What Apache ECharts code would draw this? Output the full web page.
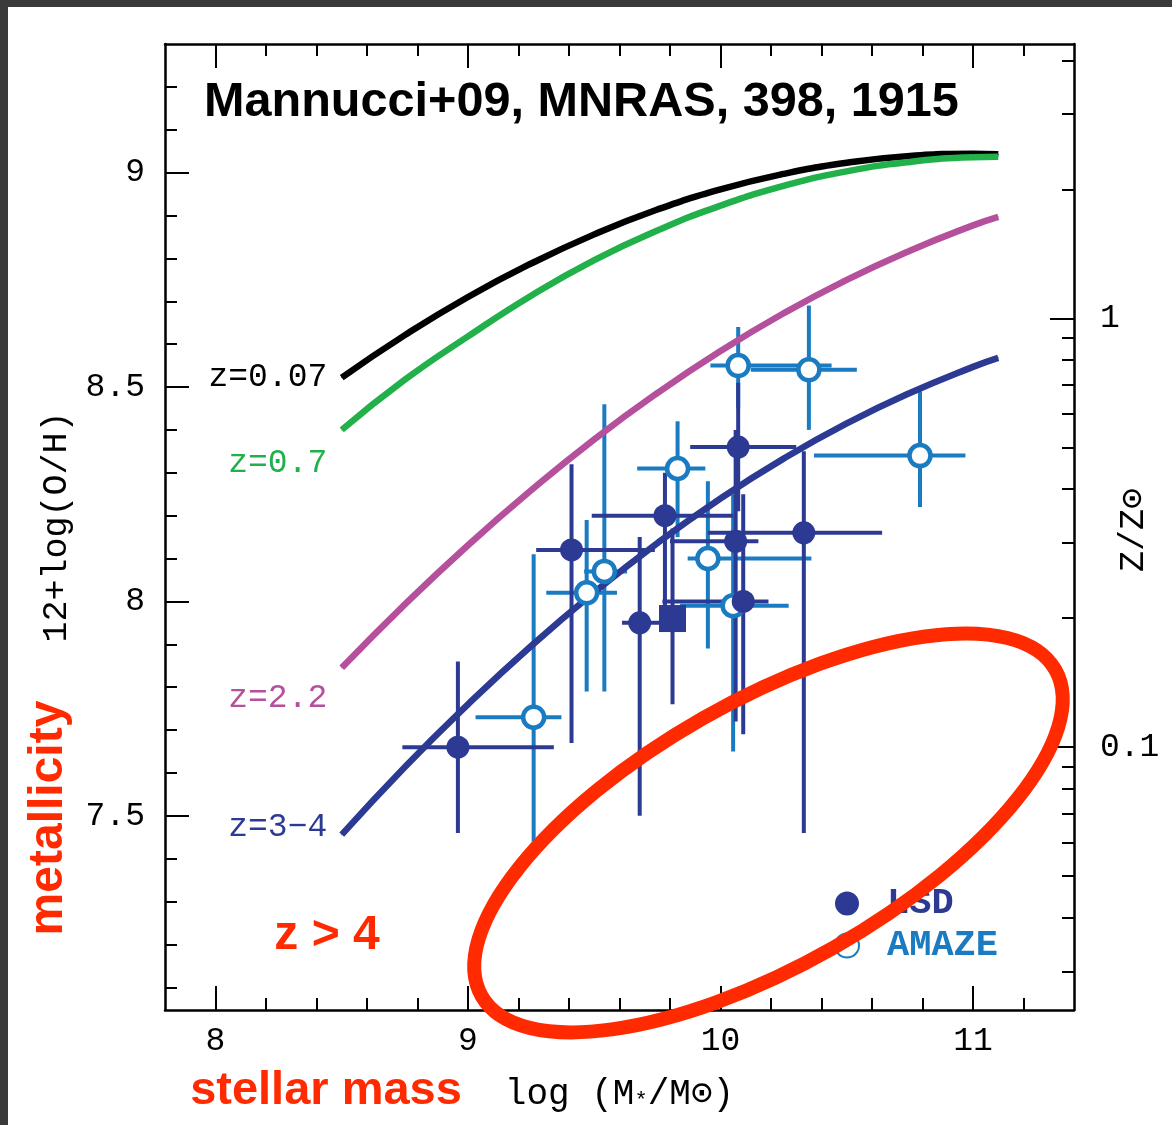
<!DOCTYPE html>
<html><head><meta charset="utf-8">
<script src="https://cdn.jsdelivr.net/npm/echarts@6/dist/echarts.min.js"></script>
<style>html,body{margin:0;padding:0;background:#fff}#c{width:1172px;height:1125px}</style>
</head><body><div id="c"></div>
<script>
// ---------- data ----------
const massGrid = [8.5, 8.75, 9.0, 9.25, 9.5, 9.75, 10.0, 10.25, 10.5, 10.75, 11.0, 11.1];
const ohZ007 = [8.522, 8.621, 8.710, 8.788, 8.856, 8.914, 8.961, 8.997, 9.023, 9.039, 9.044, 9.043];
const ohZ07  = [8.400, 8.517, 8.618, 8.713, 8.796, 8.865, 8.923, 8.969, 9.003, 9.025, 9.036, 9.037];
const ohZ22  = [7.845, 7.993, 8.131, 8.259, 8.378, 8.486, 8.584, 8.672, 8.750, 8.818, 8.877, 8.897];
const ohZ34  = [7.456, 7.614, 7.760, 7.896, 8.021, 8.136, 8.240, 8.333, 8.415, 8.486, 8.547, 8.568];
const curveNames = ['z=0.07', 'z=0.7', 'z=2.2', 'z=3\u22124'];

// [logM, 12+log(O/H), logM low, logM high, O/H low, O/H high]
const lsdPoints = [
  [8.96, 7.66, 8.74, 9.34, 7.46, 7.86],
  [9.41, 8.12, 9.27, 9.74, 7.67, 8.32],
  [9.68, 7.95, 9.61, 9.76, 7.50, 8.15],
  [9.78, 8.20, 9.49, 10.05, 7.99, 8.30],
  [10.07, 8.36, 9.88, 10.30, 8.21, 8.51],
  [10.06, 8.14, 9.80, 10.15, 7.72, 8.40],
  [10.09, 8.00, 9.77, 10.19, 7.69, 8.25],
  [10.33, 8.16, 9.95, 10.64, 7.46, 8.35]
];
const lsdStack = [
  [9.81, 7.96, 9.81, 9.81, 7.76, 8.17]
];
const amazePoints = [
  [9.26, 7.73, 9.03, 9.37, 7.44, 8.11],
  [9.47, 8.02, 9.31, 9.59, 7.79, 8.19],
  [9.54, 8.07, 9.46, 9.63, 7.79, 8.46],
  [9.83, 8.31, 9.67, 9.94, 8.15, 8.42],
  [9.95, 8.10, 9.87, 10.36, 7.89, 8.28],
  [10.05, 7.99, 9.84, 10.27, 7.65, 8.25],
  [10.07, 8.55, 9.96, 10.44, 8.45, 8.64],
  [10.35, 8.54, 10.12, 10.54, 8.40, 8.69],
  [10.79, 8.34, 10.37, 10.97, 8.22, 8.49]
];
const ellipseCenter = [[10.19, 7.46]];

// ticks
const xMajorTicks = [8, 9, 10, 11];
const xMinorTicks = [8.2, 8.4, 8.6, 8.8, 9.2, 9.4, 9.6, 9.8, 10.2, 10.4, 10.6, 10.8, 11.2];
const yMajorTicks = [7.5, 8, 8.5, 9];
const yMinorTicks = [7.1, 7.2, 7.3, 7.4, 7.6, 7.7, 7.8, 7.9, 8.1, 8.2, 8.3, 8.4, 8.6, 8.7, 8.8, 8.9, 9.1, 9.2];
const zMajorTicks = [1, 0.1];
const zMinorTicks = [4, 3, 2, 0.9, 0.8, 0.7, 0.6, 0.5, 0.4, 0.3, 0.2, 0.09, 0.08, 0.07, 0.06, 0.05, 0.04, 0.03];
const solarOH = 8.66;

// ---------- styling ----------
const NAVY = '#2c3a93', BLUE = '#1b7bc1', RED = '#ff2a00', GREEN = '#22b04b', PURPLE = '#b5509c';
const MONO = '"Liberation Mono", "DejaVu Sans Mono", monospace';
const SANS = '"Liberation Sans", Arial, sans-serif';
const X_MIN = 7.8, X_MAX = 11.4, Y_MIN = 7.047, Y_MAX = 9.30;
const toOH = z => solarOH + Math.log10(z);

const chart = echarts.init(document.getElementById('c'), null, {renderer: 'canvas'});

const gridBox = {left: 165, right: 98, top: 44, bottom: 115, containLabel: false, outerBoundsMode: 'none'};
const frameLine = {show: true, onZero: false, lineStyle: {color: '#000', width: 2.5}};
const tickStyle = {color: '#000', width: 2};
const labelFont = {color: '#000', fontFamily: MONO, fontSize: 33};

function xAx(grid, pos, major) {
  return {
    gridIndex: grid, type: 'value', min: X_MIN, max: X_MAX, position: pos,
    axisLine: major ? frameLine : {show: false, onZero: false},
    axisTick: {show: true, inside: true, length: major ? 24 : 12,
      customValues: major ? xMajorTicks : xMinorTicks, lineStyle: tickStyle},
    axisLabel: (major && pos === 'bottom') ?
      Object.assign({show: true, customValues: xMajorTicks, margin: 15}, labelFont) : {show: false},
    splitLine: {show: false}
  };
}
function yAx(grid, pos, ticks, len, labels, extra) {
  return Object.assign({
    gridIndex: grid, type: 'value', min: Y_MIN, max: Y_MAX, position: pos,
    axisLine: grid === 0 ? frameLine : {show: false, onZero: false},
    axisTick: {show: true, inside: true, length: len, customValues: ticks, lineStyle: tickStyle},
    axisLabel: labels ? Object.assign({show: true}, labelFont, labels) : {show: false},
    splitLine: {show: false}
  }, extra || {});
}

const xAxes = [
  Object.assign(xAx(0, 'bottom', true), {
    name: '{t|log (M}{s|*}{t|/M\u2299)}', nameLocation: 'middle', nameGap: 62,
    nameTextStyle: {rich: {
      t: {fontFamily: MONO, fontSize: 36, color: '#000', lineHeight: 40, verticalAlign: 'bottom'},
      s: {fontFamily: MONO, fontSize: 22, color: '#000', lineHeight: 22, verticalAlign: 'bottom'}
    }}
  }),
  xAx(0, 'top', true),
  xAx(1, 'bottom', false),
  xAx(1, 'top', false)
];
const yAxes = [
  yAx(0, 'left', yMajorTicks, 24, {customValues: yMajorTicks, margin: 20}, {
    name: '12+log(O/H)', nameLocation: 'middle', nameGap: 90, nameRotate: 90,
    nameTextStyle: {fontFamily: MONO, fontSize: 35, color: '#000'}
  }),
  yAx(0, 'right', zMajorTicks.map(toOH), 24, {
    customValues: zMajorTicks.map(toOH), margin: 26,
    formatter: v => String(Math.round(Math.pow(10, v - solarOH) * 100) / 100)
  }),
  yAx(1, 'left', yMinorTicks, 12, null),
  yAx(1, 'right', zMinorTicks.map(toOH), 12, null)
];

function curve(values, color, labelText, dy) {
  return {
    type: 'line', name: labelText, xAxisIndex: 0, yAxisIndex: 0, z: 3, smooth: true,
    symbol: 'circle', symbolSize: 1, showSymbol: true, showAllSymbol: true, silent: true,
    itemStyle: {color: color}, lineStyle: {color: color, width: 6.5},
    emphasis: {disabled: true},
    data: massGrid.map((m, i) => i === 0 ? {
      value: [m, values[i]],
      label: {show: true, formatter: labelText, position: 'left', distance: 14,
        offset: [0, dy], color: color, fontFamily: MONO, fontSize: 33}
    } : [m, values[i]])
  };
}

function errBars(color) {
  return function (params, api) {
    const x = api.value(0), y = api.value(1);
    const l = api.coord([api.value(2), y]), r = api.coord([api.value(3), y]);
    const b = api.coord([x, api.value(4)]), t = api.coord([x, api.value(5)]);
    const st = {stroke: color, lineWidth: 4};
    return {type: 'group', children: [
      {type: 'line', shape: {x1: l[0], y1: l[1], x2: r[0], y2: r[1]}, style: st},
      {type: 'line', shape: {x1: b[0], y1: b[1], x2: t[0], y2: t[1]}, style: st}
    ]};
  };
}
function errSeries(name, rows, color) {
  return {type: 'custom', name: name, xAxisIndex: 0, yAxisIndex: 0, z: 2, silent: true,
    renderItem: errBars(color), encode: {x: [0, 2, 3], y: [1, 4, 5]}, data: rows};
}

const option = {
  animation: false,
  backgroundColor: '#ffffff',
  grid: [Object.assign({}, gridBox), Object.assign({}, gridBox)],
  xAxis: xAxes,
  yAxis: yAxes,
  title: {
    text: 'Mannucci+09, MNRAS, 398, 1915', left: 204, top: 78, padding: 0,
    textStyle: {fontFamily: SANS, fontWeight: 'bold', fontSize: 48.6, color: '#000'}
  },
  legend: {
    orient: 'vertical', left: 834, top: 885, itemWidth: 70, itemHeight: 24, itemGap: 5,
    padding: 0, selectedMode: false,
    textStyle: {fontFamily: MONO, fontWeight: 'bold', fontSize: 37},
    data: [
      {name: 'LSD', textStyle: {color: NAVY}},
      {name: 'AMAZE', textStyle: {color: BLUE}}
    ]
  },
  series: [
    errSeries('AMAZE err', amazePoints, BLUE),
    errSeries('LSD err', lsdPoints.concat(lsdStack), NAVY),
    curve(ohZ007, '#000000', curveNames[0], 0),
    curve(ohZ07, GREEN, curveNames[1], 33),
    curve(ohZ22, PURPLE, curveNames[2], 30),
    curve(ohZ34, NAVY, curveNames[3], -7),
    {type: 'scatter', name: 'AMAZE', xAxisIndex: 0, yAxisIndex: 0, z: 4, silent: true,
      symbol: 'circle', symbolSize: 21,
      itemStyle: {color: '#ffffff', borderColor: BLUE, borderWidth: 4.5, opacity: 1},
      data: amazePoints.map(p => [p[0], p[1]])},
    {type: 'scatter', name: 'LSD', xAxisIndex: 0, yAxisIndex: 0, z: 5, silent: true,
      symbol: 'circle', symbolSize: 23, itemStyle: {color: NAVY, opacity: 1},
      data: lsdPoints.map(p => [p[0], p[1]])},
    {type: 'scatter', name: 'LSD stack', xAxisIndex: 0, yAxisIndex: 0, z: 5, silent: true,
      symbol: 'rect', symbolSize: 27, itemStyle: {color: NAVY, opacity: 1},
      data: lsdStack.map(p => [p[0], p[1]])},
    {type: 'custom', name: 'z>4 region', xAxisIndex: 0, yAxisIndex: 0, z: 10, silent: true, clip: false,
      renderItem: function (params, api) {
        const c = api.coord([api.value(0), api.value(1)]);
        return {type: 'ellipse', x: c[0], y: c[1], rotation: 0.517,
          shape: {cx: 0, cy: 0, rx: 330, ry: 132},
          style: {fill: 'none', stroke: RED, lineWidth: 14}};
      },
      data: ellipseCenter}
  ],
  graphic: [
    {type: 'rect', shape: {x: 0, y: 0, width: 1172, height: 7}, style: {fill: '#3a3a3a'}, z: 100, silent: true},
    {type: 'rect', shape: {x: 0, y: 0, width: 8, height: 1125}, style: {fill: '#3a3a3a'}, z: 100, silent: true},
    {type: 'text', x: 1134, y: 530, rotation: Math.PI / 2, silent: true,
      style: {text: 'Z/Z\u2299', fill: '#000', fontFamily: MONO, fontSize: 35,
        textAlign: 'center', textVerticalAlign: 'middle', align: 'center', verticalAlign: 'middle'}},
    {type: 'text', x: 327, y: 936, silent: true,
      style: {text: 'z > 4', fill: RED, fontFamily: SANS, fontWeight: 'bold', fontSize: 48,
        textAlign: 'center', textVerticalAlign: 'middle', align: 'center', verticalAlign: 'middle'}},
    {type: 'text', x: 326, y: 1091, silent: true,
      style: {text: 'stellar mass', fill: RED, fontFamily: SANS, fontWeight: 'bold', fontSize: 47,
        textAlign: 'center', textVerticalAlign: 'middle', align: 'center', verticalAlign: 'middle'}},
    {type: 'text', x: 49, y: 818, rotation: Math.PI / 2, silent: true,
      style: {text: 'metallicity', fill: RED, fontFamily: SANS, fontWeight: 'bold', fontSize: 48,
        textAlign: 'center', textVerticalAlign: 'middle', align: 'center', verticalAlign: 'middle'}}
  ]
};
chart.setOption(option);
</script>
</body></html>
